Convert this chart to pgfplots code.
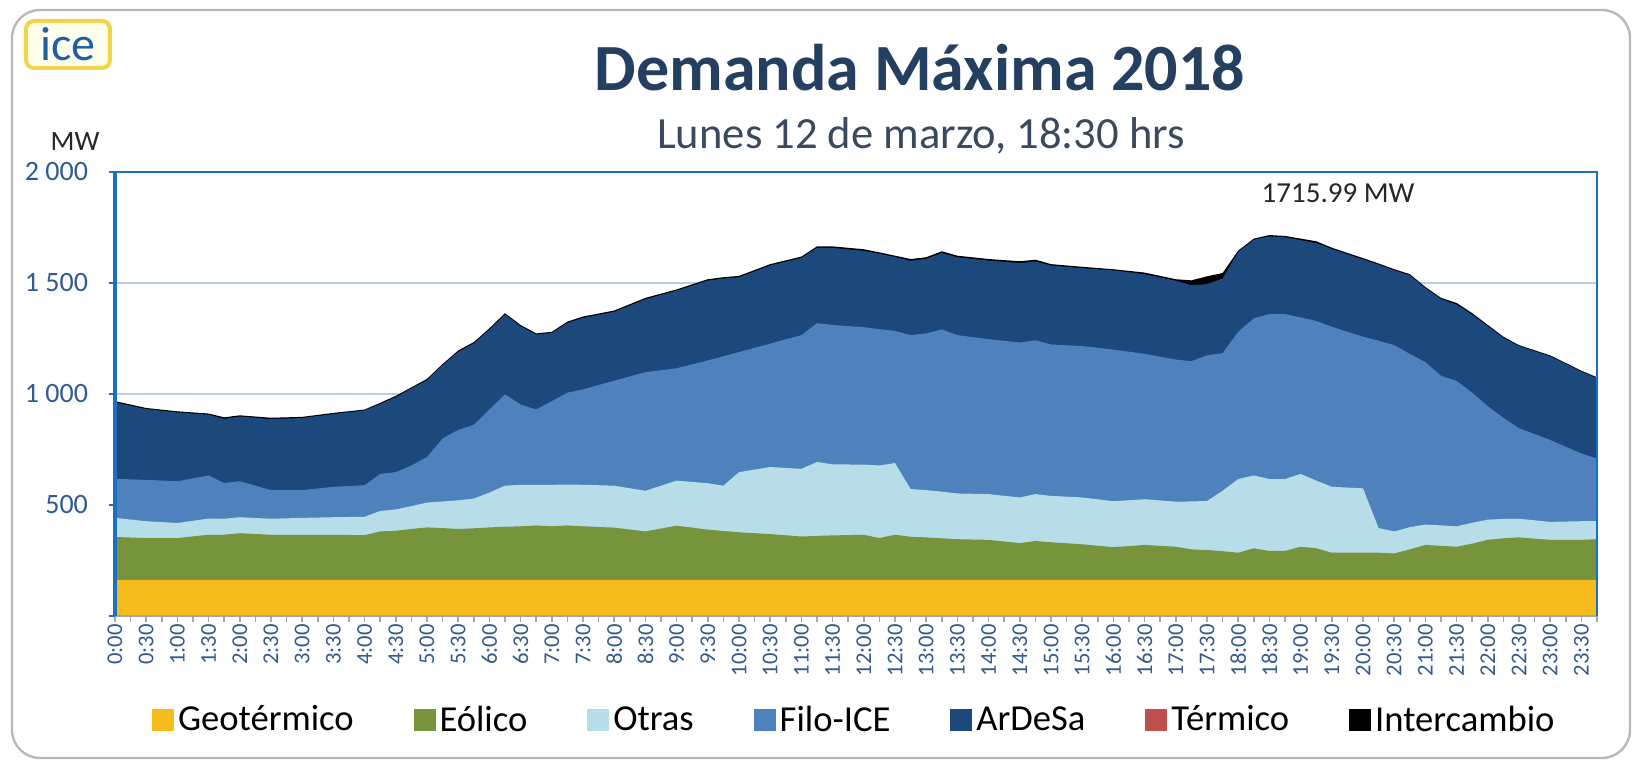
\documentclass[border=0pt]{standalone}
\usepackage{pgfplots}
\pgfplotsset{compat=1.18}
\usepackage{pgfplotstable}
\usepackage{fontspec}
\setmainfont{Carlito}
\definecolor{cgeo}{HTML}{F6BC1E}
\definecolor{ceol}{HTML}{77933C}
\definecolor{cotr}{HTML}{B7DDE8}
\definecolor{cfilo}{HTML}{4F81BD}
\definecolor{card}{HTML}{1C487B}
\definecolor{cter}{HTML}{C0504D}
\definecolor{cint}{HTML}{000000}
\definecolor{axblue}{HTML}{1F6FBF}
\definecolor{gridblue}{HTML}{B9CDE5}
\definecolor{titlec}{HTML}{243F60}
\definecolor{subc}{HTML}{3A4A5C}
\definecolor{xlab}{HTML}{34598C}
\definecolor{ylab}{HTML}{2F5A94}
\definecolor{logoy}{HTML}{F2D44A}
\definecolor{logob}{HTML}{1F5FA8}

% cumulative tops of each layer (MW)
\pgfplotstableread{
t geo eol otr filo ard tot
0.00 163 356 442 618 962 968
0.50 163 351 427 613 932 937
1.00 163 351 419 607 917 922
1.50 163 366 439 633 907 912
1.75 163 366 438 599 888 895
2.00 163 373 445 607 899 904
2.50 163 366 438 567 887 893
3.00 163 366 442 567 892 897
3.50 163 366 445 582 910 915
4.00 163 364 447 589 926 930
4.25 163 381 473 640 955 960
4.50 163 384 480 648 986 992
4.75 163 392 495 678 1025 1030
5.00 163 399 511 716 1062 1068
5.25 163 396 516 800 1130 1135
5.50 163 392 521 838 1190 1196
5.75 163 395 529 861 1228 1234
6.00 163 399 556 930 1290 1296
6.25 163 402 587 998 1358 1364
6.50 163 404 591 953 1305 1311
6.75 163 408 591 930 1268 1273
7.00 163 404 591 968 1275 1280
7.25 163 408 592 1006 1320 1326
7.50 163 404 591 1021 1343 1349
8.00 163 398 587 1060 1370 1376
8.50 163 381 564 1098 1427 1433
9.00 163 407 610 1116 1465 1471
9.50 163 389 598 1151 1511 1517
9.75 163 383 587 1170 1520 1526
10.00 163 377 648 1189 1526 1532
10.50 163 369 671 1227 1579 1585
11.00 163 358 663 1265 1613 1619
11.25 163 361 694 1319 1658 1665
11.50 163 363 683 1311 1658 1665
12.00 163 366 682 1301 1645 1652
12.25 163 351 678 1292 1632 1638
12.50 163 366 689 1284 1617 1623
12.75 163 357 572 1265 1600 1608
13.00 163 354 567 1273 1609 1616
13.25 163 350 560 1291 1635 1643
13.50 163 346 552 1265 1616 1623
14.00 163 343 549 1247 1601 1608
14.50 163 328 534 1232 1590 1598
14.75 163 338 549 1242 1597 1605
15.00 163 332 541 1223 1579 1585
15.50 163 323 534 1216 1567 1573
16.00 163 310 517 1200 1557 1562
16.50 163 320 526 1181 1540 1547
17.00 163 312 515 1155 1510 1517
17.25 163 300 516 1148 1490 1512
17.50 163 297 518 1174 1495 1530
17.75 163 292 564 1184 1520 1545
18.00 163 285 617 1280 1640 1646
18.25 163 305 633 1341 1695 1700
18.50 163 293 617 1360 1710 1716
18.75 163 293 617 1360 1706 1712
19.00 163 312 640 1345 1693 1700
19.25 163 305 610 1329 1680 1688
19.50 163 285 582 1303 1653 1659
20.00 163 286 575 1258 1606 1612
20.25 163 285 396 1240 1583 1588
20.50 163 282 381 1220 1557 1562
20.75 163 300 400 1181 1535 1540
21.00 163 320 412 1143 1477 1482
21.25 163 316 408 1082 1428 1433
21.50 163 312 404 1059 1403 1410
21.75 163 326 420 1006 1357 1364
22.00 163 343 434 945 1306 1311
22.25 163 350 437 892 1253 1258
22.50 163 354 438 846 1216 1220
23.00 163 343 424 793 1170 1174
23.50 163 343 427 732 1101 1105
23.75 163 346 427 709 1071 1075
}\datatab

\begin{document}
\begin{tikzpicture}
% page area: 1637 x 760 px at 0.5pt/px, origin at axis lower-left (px 115,616)
\useasboundingbox (-57.5pt,-72pt) rectangle (761pt,308pt);
\draw[gray!55, line width=1.2pt, rounded corners=14pt] (-51.5pt,-71pt) rectangle (757.5pt,303pt);
% logo
\draw[logoy, line width=2pt, fill=yellow!8, rounded corners=4pt] (-44.5pt,274pt) rectangle (-2.5pt,297.5pt);
\node[text=logob, font=\fontsize{24}{24}\selectfont, inner sep=0pt] at (-23.5pt,286pt) {ice};
% titles
\node[text=titlec, font=\fontsize{33}{34}\selectfont\bfseries] at (402.5pt,274pt) {Demanda Máxima 2018};
\node[text=subc, font=\fontsize{22.3}{23}\selectfont] at (403pt,240pt) {Lunes 12 de marzo, 18:30 hrs};
\node[text=black!85, font=\fontsize{14}{14}\selectfont] at (-20pt,237pt) {MW};

\begin{axis}[
  at={(0pt,0pt)}, anchor=south west,
  scale only axis, width=741pt, height=222pt,
  xmin=0, xmax=23.75, ymin=0, ymax=2000,
  clip=false,
  axis line style={draw=none},
  tick align=outside,
  xtick pos=bottom, ytick pos=left,
  xtick={0,0.5,...,23.5},
  minor xtick={0.25,0.75,...,23.75},
  xticklabels={0:00,0:30,1:00,1:30,2:00,2:30,3:00,3:30,4:00,4:30,5:00,5:30,6:00,6:30,7:00,7:30,8:00,8:30,9:00,9:30,10:00,10:30,11:00,11:30,12:00,12:30,13:00,13:30,14:00,14:30,15:00,15:30,16:00,16:30,17:00,17:30,18:00,18:30,19:00,19:30,20:00,20:30,21:00,21:30,22:00,22:30,23:00,23:30},
  x tick label style={rotate=90, anchor=east, text=xlab, font=\fontsize{11.3}{11.3}\selectfont, inner sep=1pt},
  xtick style={draw=gray!70, line width=0.8pt},
  minor tick style={draw=gray!70, line width=0.8pt},
  major tick length=3pt, minor tick length=3pt,
  ytick={0,500,1000,1500,2000},
  yticklabels={,500,1 000,1 500,2 000},
  y tick label style={text=ylab, font=\fontsize{14}{14}\selectfont, xshift=-7pt},
  ytick style={draw=axblue, line width=1pt},
  ymajorgrids, grid style={draw=gridblue, line width=1pt},
  legend columns=7,
  legend style={at={(0.4995,-0.234)}, anchor=center, draw=none, fill=none,
    font=\fontsize{18.3}{20}\selectfont,
    /tikz/every even column/.append style={column sep=28pt}},
  legend image code/.code={\fill[#1] (0pt,-5.5pt) rectangle (11pt,5.5pt);},
]
\addplot[fill=cint, draw=none, forget plot] table[x=t,y=tot] {\datatab} \closedcycle;
\addplot[fill=card, draw=none, forget plot] table[x=t,y=ard] {\datatab} \closedcycle;
\addplot[fill=cfilo, draw=none, forget plot] table[x=t,y=filo] {\datatab} \closedcycle;
\addplot[fill=cotr, draw=none, forget plot] table[x=t,y=otr] {\datatab} \closedcycle;
\addplot[fill=ceol, draw=none, forget plot] table[x=t,y=eol] {\datatab} \closedcycle;
\addplot[fill=cgeo, draw=none, forget plot] table[x=t,y=geo] {\datatab} \closedcycle;

\addlegendimage{fill=cgeo, draw=none}\addlegendentry{Geotérmico}
\addlegendimage{fill=ceol, draw=none}\addlegendentry{Eólico}
\addlegendimage{fill=cotr, draw=none}\addlegendentry{Otras}
\addlegendimage{fill=cfilo, draw=none}\addlegendentry{Filo-ICE}
\addlegendimage{fill=card, draw=none}\addlegendentry{ArDeSa}
\addlegendimage{fill=cter, draw=none}\addlegendentry{Térmico}
\addlegendimage{fill=cint, draw=none}\addlegendentry{Intercambio}

\draw[gray!70, line width=1pt] (axis cs:0,0) -- (axis cs:23.75,0);
\draw[axblue, line width=1pt] (axis cs:0,2000) -- (axis cs:23.75,2000) -- (axis cs:23.75,0);
\draw[axblue, line width=2.4pt] (axis cs:0,0) -- (axis cs:0,2000);
\node[font=\fontsize{14.5}{15}\selectfont, text=black!85] at (axis cs:19.6,1905) {1715.99 MW};
\end{axis}
\end{tikzpicture}
\end{document}
